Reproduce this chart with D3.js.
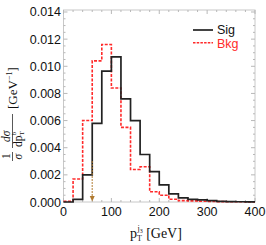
<!DOCTYPE html>
<html><head><meta charset="utf-8">
<script src="https://cdn.jsdelivr.net/npm/d3@7"></script>
<style>body{margin:0;background:#fff}svg{display:block}</style>
</head><body>
<script>
const binEdges = d3.range(0, 400, 20);
const sigValues = [0.0, 0.0002, 0.0020, 0.0058, 0.00965, 0.0107, 0.0076, 0.0060, 0.0035, 0.00224, 0.00126, 0.0006, 0.0003, 0.0002, 0.00015, 0.0001, 0.00004, 0.00003, 0.00002, 0.00001];
const bkgValues = [0.00005, 0.0017, 0.0060, 0.0104, 0.0116, 0.0084, 0.0055, 0.0024, 0.0026, 0.00075, 0.0005, 0.0002, 0.0001, 0.00008, 0.00005, 0.00004, 0.00003, 0.00002, 0.00002, 0.00001];
const xTicks = [0, 100, 200, 300, 400];
const yTicks = [0, 0.002, 0.004, 0.006, 0.008, 0.010, 0.012, 0.014];
const seriesNames = ["Sig", "Bkg"];
const cutValue = 60;
const cutArrowTop = 0.003;

const W = 266, H = 245;
const L = 63.5, R = 255, T = 10, B = 202;
const svg = d3.select("body").append("svg").attr("width", W).attr("height", H);
const x = d3.scaleLinear().domain([0, 400]).range([L, R]);
const y = d3.scaleLinear().domain([0, 0.014147]).range([B, T]);

// frame
svg.append("rect").attr("x", L).attr("y", T).attr("width", R - L).attr("height", B - T)
  .attr("fill", "none").attr("stroke", "#c8c8c8").attr("stroke-width", 1);

const tickCol = "#b8b8b8";
const xMinor = d3.range(0, 401, 20);
const yMinor = d3.range(0, 0.01401, 0.0005);
const g = svg.append("g");
xMinor.forEach(v => {
  const major = v % 100 === 0;
  const len = major ? 4 : 2;
  g.append("line").attr("x1", x(v)).attr("x2", x(v)).attr("y1", B).attr("y2", B - len).attr("stroke", tickCol);
  g.append("line").attr("x1", x(v)).attr("x2", x(v)).attr("y1", T).attr("y2", T + len).attr("stroke", tickCol);
});
yMinor.forEach((v, i) => {
  const major = i % 4 === 0;
  const len = major ? 4 : 2;
  g.append("line").attr("x1", L).attr("x2", L + len).attr("y1", y(v)).attr("y2", y(v)).attr("stroke", tickCol);
  g.append("line").attr("x1", R).attr("x2", R - len).attr("y1", y(v)).attr("y2", y(v)).attr("stroke", tickCol);
});

// tick labels
const font = "Liberation Sans, Arial, sans-serif";
svg.append("g").selectAll("text").data(xTicks).join("text")
  .attr("x", d => x(d)).attr("y", 216).attr("text-anchor", "middle")
  .attr("font-family", font).attr("font-size", 12.5).attr("fill", "#111").text(d => d);
svg.append("g").selectAll("text").data(yTicks).join("text")
  .attr("x", 61).attr("y", d => y(d) + 4.5).attr("text-anchor", "end")
  .attr("font-family", font).attr("font-size", 12.5).attr("fill", "#111").text(d => d.toFixed(3));

// histograms
function stepPts(vals) {
  const pts = binEdges.map((e, i) => [e, vals[i]]);
  pts.push([400, vals[vals.length - 1]]);
  return pts;
}
const line = d3.line().x(d => x(d[0])).y(d => y(d[1])).curve(d3.curveStepAfter);
svg.append("path").attr("d", line(stepPts(bkgValues))).attr("fill", "none")
  .attr("stroke", "#ff2a2a").attr("stroke-width", 1.6).attr("stroke-dasharray", "3,1.5");
svg.append("path").attr("d", line(stepPts(sigValues))).attr("fill", "none")
  .attr("stroke", "#222").attr("stroke-width", 1.7);

// cut arrow
const arrowCol = "#b07a30";
svg.append("line").attr("x1", x(cutValue)).attr("x2", x(cutValue))
  .attr("y1", y(cutArrowTop)).attr("y2", y(0) - 5)
  .attr("stroke", arrowCol).attr("stroke-width", 1.3).attr("stroke-dasharray", "1.5,1.5");
svg.append("path").attr("d", `M${x(cutValue) - 2.5},${y(0) - 6} L${x(cutValue) + 2.5},${y(0) - 6} L${x(cutValue)},${y(0) - 0.5} Z`)
  .attr("fill", arrowCol);

// legend
const lg = svg.append("g");
lg.append("line").attr("x1", 193).attr("x2", 213).attr("y1", 30).attr("y2", 30).attr("stroke", "#222").attr("stroke-width", 1.7);
lg.append("text").attr("x", 217).attr("y", 34).attr("font-family", font).attr("font-size", 12.5).attr("fill", "#111").text(seriesNames[0]);
lg.append("line").attr("x1", 193).attr("x2", 213).attr("y1", 42.7).attr("y2", 42.7).attr("stroke", "#ff2a2a").attr("stroke-width", 1.4).attr("stroke-dasharray", "2.5,1.2");
lg.append("text").attr("x", 217).attr("y", 47.5).attr("font-family", font).attr("font-size", 12.5).attr("fill", "#ff2a2a").text(seriesNames[1]);

// x label
const serif = "Liberation Serif, Times New Roman, serif";
const xl = svg.append("text").attr("x", 130).attr("y", 238).attr("font-family", serif).attr("font-size", 14).attr("fill", "#111");
xl.append("tspan").text("p");
xl.append("tspan").attr("font-size", 8).attr("dy", 3).text("T");
xl.append("tspan").attr("font-size", 8).attr("dx", -4.5).attr("dy", -10).text("j");
xl.append("tspan").attr("font-size", 6).attr("dy", 2).text("3");
xl.append("tspan").attr("dy", 5).text(" [GeV]");

// y label (rotated)
const yl = svg.append("g").attr("transform", "translate(0,161) rotate(-90)");
const fs = 11.5;
yl.append("text").attr("x", 2).attr("y", 10).attr("font-family", serif).attr("font-size", fs).attr("fill", "#111").text("1");
yl.append("text").attr("x", 19).attr("y", 10).attr("font-family", serif).attr("font-size", fs).attr("font-style", "italic").attr("fill", "#111").text("dσ");
yl.append("line").attr("x1", 0).attr("x2", 9).attr("y1", 12.5).attr("y2", 12.5).attr("stroke", "#111").attr("stroke-width", 0.7);
yl.append("line").attr("x1", 13).attr("x2", 47).attr("y1", 12.5).attr("y2", 12.5).attr("stroke", "#111").attr("stroke-width", 0.7);
yl.append("text").attr("x", 1.5).attr("y", 21.5).attr("font-family", serif).attr("font-size", fs).attr("font-style", "italic").attr("fill", "#111").text("σ");
const den = yl.append("text").attr("x", 14).attr("y", 21.5).attr("font-family", serif).attr("font-size", fs).attr("fill", "#111");
den.append("tspan").text("dp");
den.append("tspan").attr("font-size", 7).attr("dy", 2).text("T");
den.append("tspan").attr("font-size", 7).attr("dx", -4).attr("dy", -8).text("b");
// unit
const un = yl.append("text").attr("x", 52).attr("y", 17).attr("font-family", serif).attr("font-size", 13).attr("fill", "#111");
un.append("tspan").text("[GeV");
un.append("tspan").attr("font-size", 8).attr("dy", -5).text("−1");
un.append("tspan").attr("dy", 5).text("]");
</script>
</body></html>
